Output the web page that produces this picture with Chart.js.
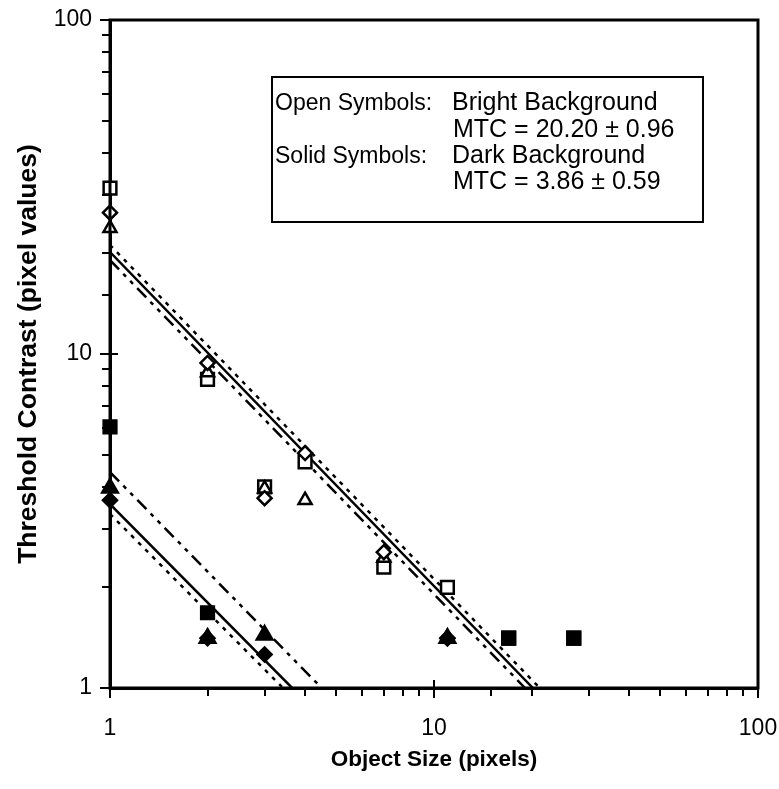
<!DOCTYPE html>
<html>
<head>
<meta charset="utf-8">
<script src="https://cdn.jsdelivr.net/npm/chart.js@4.4.0/dist/chart.umd.min.js"></script>
<style>
  html, body { margin: 0; padding: 0; background: #fff; }
  #wrap { width: 779px; height: 789px; }
</style>
</head>
<body>
<div id="wrap"><canvas id="chart" width="779" height="789"></canvas></div>
<script>
// --- data (object size in pixels, threshold contrast) ---
const openSquareX   = [1, 2, 3, 4, 7, 11, 17, 27];
const openSquareY   = [31.4, 8.4, 4.0, 4.75, 2.3, 2.0, 1.41, 1.41];
const openDiamondX  = [1, 2, 3, 4, 7, 11];
const openDiamondY  = [26.5, 9.4, 3.7, 5.05, 2.55, 1.41];
const openTriangleX = [1, 2, 3, 4, 7, 11];
const openTriangleY = [23.8, 8.8, 3.95, 3.65, 2.45, 1.41];

const solidSquareX   = [1, 2, 17, 27];
const solidSquareY   = [6.05, 1.68, 1.41, 1.41];
const solidTriangleX = [1, 2, 3, 11];
const solidTriangleY = [3.97, 1.41, 1.44, 1.41];
const solidDiamondX  = [1, 2, 3, 11];
const solidDiamondY  = [3.65, 1.41, 1.26, 1.41];

// fitted lines (end points)
const brightFitX = [1, 20.2],  brightFitY = [20.2, 1];
const brightLoX  = [1, 19.1],  brightLoY  = [19.1, 1];
const brightHiX  = [1, 21.2],  brightHiY  = [21.2, 1];
const darkFitX   = [1, 3.65],  darkFitY   = [3.55, 1];
const darkHiX    = [1, 4.5],   darkHiY    = [4.43, 1];
const darkLoX    = [1, 3.42],  darkLoY    = [3.32, 1];

const xTicks = [1, 10, 100];
const yTicks = [1, 10, 100];

const legendLines = [
  ["Open Symbols:", "Bright Background"],
  ["", "MTC = 20.20 \u00b1 0.96"],
  ["Solid Symbols:", "Dark Background"],
  ["", "MTC = 3.86 \u00b1 0.59"]
];

const FONT = "'Liberation Sans', Arial, sans-serif";
const pts = (xs, ys) => xs.map((x, i) => ({ x: x, y: ys[i] }));

function markers(xs, ys, style, solid, radius, order) {
  return {
    data: pts(xs, ys), showLine: false, order: order, clip: false,
    pointStyle: style, pointRadius: radius, pointHoverRadius: radius,
    pointBorderWidth: 2.5, pointBorderColor: "#000",
    pointBackgroundColor: solid ? "#000" : "#fff"
  };
}
function fitLine(xs, ys, dash) {
  return {
    data: pts(xs, ys), showLine: true, order: 10,
    borderColor: "#000", borderWidth: 2.5, borderDash: dash,
    pointRadius: 0, pointHoverRadius: 0, fill: false
  };
}

const dashDotDot = [13, 6, 4, 6, 4, 6];
const shortDash = [4, 6];

// frame around plot + major ticks crossing into the plot + text box
const framePlugin = {
  id: "frame",
  afterDraw(chart) {
    const ctx = chart.ctx, a = chart.chartArea;
    const xs = chart.scales.x, ys = chart.scales.y;
    ctx.save();
    ctx.strokeStyle = "#000";
    ctx.lineWidth = 3;
    ctx.strokeRect(a.left, a.top, a.right - a.left, a.bottom - a.top);
    ctx.lineWidth = 2;
    ctx.beginPath();
    xTicks.forEach(v => {
      const px = xs.getPixelForValue(v);
      ctx.moveTo(px, a.bottom - 8); ctx.lineTo(px, a.bottom + 10);
    });
    yTicks.forEach(v => {
      const py = ys.getPixelForValue(v);
      ctx.moveTo(a.left - 10, py); ctx.lineTo(a.left + 8, py);
    });
    ctx.stroke();

    // legend text box
    ctx.lineWidth = 2;
    ctx.fillStyle = "#fff";
    ctx.fillRect(272, 77, 431, 145);
    ctx.strokeRect(272, 77, 431, 145);
    ctx.fillStyle = "#000";
    ctx.textBaseline = "alphabetic";
    const base = [110, 136.5, 163, 189];
    legendLines.forEach((ln, i) => {
      ctx.font = "23px " + FONT;
      if (ln[0]) ctx.fillText(ln[0], 275, base[i]);
      ctx.font = "25px " + FONT;
      ctx.fillText(ln[1], ln[0] ? 452 : 453, base[i]);
    });
    ctx.restore();
  }
};

const tickFont = { family: FONT, size: 23 };

new Chart(document.getElementById("chart"), {
  type: "scatter",
  data: {
    datasets: [
      fitLine(brightFitX, brightFitY, []),
      fitLine(brightLoX, brightLoY, dashDotDot),
      fitLine(brightHiX, brightHiY, shortDash),
      fitLine(darkFitX, darkFitY, []),
      fitLine(darkHiX, darkHiY, dashDotDot),
      fitLine(darkLoX, darkLoY, shortDash),
      markers(openSquareX, openSquareY, "rect", false, 9, 3),
      markers(openDiamondX, openDiamondY, "rectRot", false, 7, 2),
      markers(openTriangleX, openTriangleY, "triangle", false, 7.5, 2),
      markers(solidSquareX, solidSquareY, "rect", true, 9, 1),
      markers(solidTriangleX, solidTriangleY, "triangle", true, 9, 0),
      markers(solidDiamondX, solidDiamondY, "rectRot", true, 7, 0)
    ]
  },
  options: {
    responsive: false,
    animation: false,
    layout: { padding: { top: 20, right: 21, left: 0, bottom: 0 } },
    plugins: { legend: { display: false }, tooltip: { enabled: false } },
    scales: {
      x: {
        type: "logarithmic", min: 1, max: 100,
        afterFit: s => { s.height = 101; s.paddingLeft = 0; s.paddingRight = 0; },
        border: { display: true, color: "#000", width: 3 },
        grid: { drawOnChartArea: false, drawTicks: true, tickLength: 8, color: "#000", lineWidth: 2 },
        ticks: {
          autoSkip: false, maxRotation: 0, color: "#000", font: tickFont, padding: 19,
          callback: v => (xTicks.includes(v) ? String(v) : "")
        },
        title: { display: true, text: "Object Size (pixels)", color: "#000",
                 font: { family: FONT, size: 22.5, weight: "bold" }, padding: { top: 0, bottom: 16 } }
      },
      y: {
        type: "logarithmic", min: 1, max: 100,
        afterFit: s => { s.width = 110; s.paddingTop = 0; s.paddingBottom = 0; },
        border: { display: true, color: "#000", width: 3 },
        grid: { drawOnChartArea: false, drawTicks: true, tickLength: 8, color: "#000", lineWidth: 2 },
        ticks: {
          autoSkip: false, color: "#000", font: tickFont, padding: 10,
          callback: v => (yTicks.includes(v) ? String(v) : "")
        },
        title: { display: true, text: "Threshold Contrast (pixel values)", color: "#000",
                 font: { family: FONT, size: 26.5, weight: "bold" }, padding: { top: 13, bottom: 0 } }
      }
    }
  },
  plugins: [framePlugin]
});
</script>
</body>
</html>
